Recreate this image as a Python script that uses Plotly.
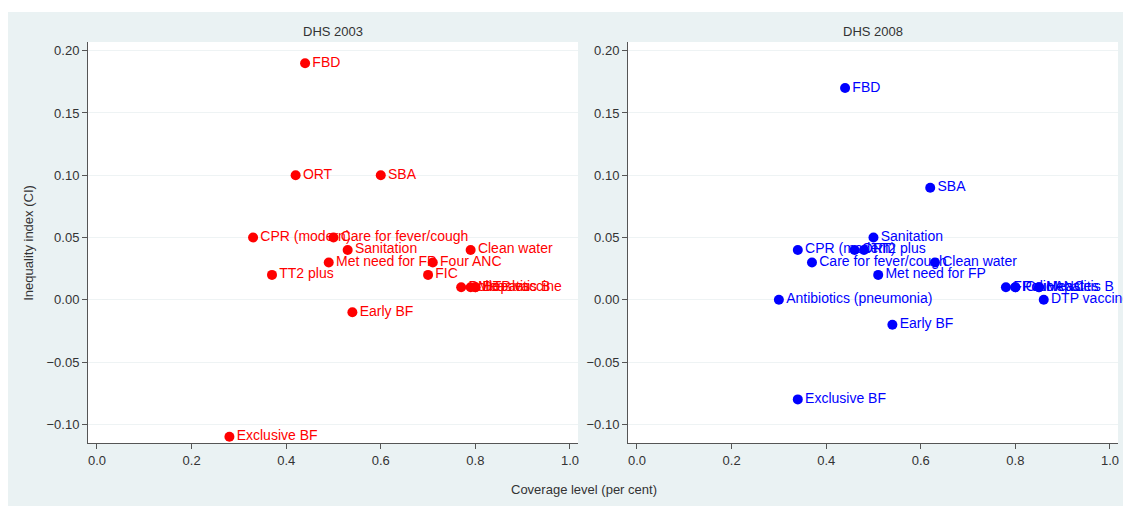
import plotly.graph_objects as go
from plotly.subplots import make_subplots

# DHS 2003
labels_2003 = ["FBD", "ORT", "SBA", "CPR (modern)", "Care for fever/cough", "Sanitation",
               "Clean water", "Met need for FP", "Four ANC", "TT2 plus", "FIC",
               "Polio", "Measles", "Hepatitis B", "DTP vaccine", "Early BF", "Exclusive BF"]
cov_2003 = [0.44, 0.42, 0.60, 0.33, 0.50, 0.53, 0.79, 0.49, 0.71, 0.37, 0.70,
            0.77, 0.79, 0.80, 0.80, 0.54, 0.28]
ci_2003 = [0.19, 0.10, 0.10, 0.05, 0.05, 0.04, 0.04, 0.03, 0.03, 0.02, 0.02,
           0.01, 0.01, 0.01, 0.01, -0.01, -0.11]

# DHS 2008
labels_2008 = ["FBD", "SBA", "Sanitation", "CPR (modern)", "ORT", "TT2 plus",
               "Care for fever/cough", "Clean water", "Met need for FP", "FIC", "Four ANC",
               "Polio", "Measles", "Hepatitis B", "Antibiotics (pneumonia)", "DTP vaccine",
               "Early BF", "Exclusive BF"]
cov_2008 = [0.44, 0.62, 0.50, 0.34, 0.46, 0.48, 0.37, 0.63, 0.51, 0.78, 0.80,
            0.80, 0.85, 0.85, 0.30, 0.86, 0.54, 0.34]
ci_2008 = [0.17, 0.09, 0.05, 0.04, 0.04, 0.04, 0.03, 0.03, 0.02, 0.01, 0.01,
           0.01, 0.01, 0.01, 0.00, 0.00, -0.02, -0.08]

x_ticks = [0.0, 0.2, 0.4, 0.6, 0.8, 1.0]
y_ticks = [-0.10, -0.05, 0.00, 0.05, 0.10, 0.15, 0.20]

FONT = "Liberation Sans, Arial, sans-serif"
BG = "#eaf2f3"

fig = make_subplots(rows=1, cols=2, horizontal_spacing=50 / 1030)

fig.add_trace(go.Scatter(x=cov_2003, y=ci_2003, text=labels_2003, mode="markers+text",
                         textposition="middle right", cliponaxis=False,
                         marker=dict(color="#ff0000", size=10),
                         textfont=dict(color="#ff0000", size=14, family=FONT),
                         showlegend=False), row=1, col=1)
fig.add_trace(go.Scatter(x=cov_2008, y=ci_2008, text=labels_2008, mode="markers+text",
                         textposition="middle right", cliponaxis=False,
                         marker=dict(color="#0000ff", size=10),
                         textfont=dict(color="#0000ff", size=14, family=FONT),
                         showlegend=False), row=1, col=2)

for c in (1, 2):
    fig.update_xaxes(range=[-0.019, 1.017], tickvals=x_ticks,
                     ticktext=[f"{v:.1f}" for v in x_ticks],
                     showgrid=False, zeroline=False, showline=True, linecolor="#555",
                     linewidth=1, ticks="outside", ticklen=5, tickcolor="#555",
                     tickfont=dict(size=13, color="#333", family=FONT), row=1, col=c)
    fig.update_yaxes(range=[-0.115, 0.207], tickvals=y_ticks,
                     ticktext=[f"{v:.2f}".replace("-", "\u2212") for v in y_ticks],
                     showgrid=True, gridcolor="#eef3f4", zeroline=False, showline=True,
                     linecolor="#555", linewidth=1, ticks="outside", ticklen=5,
                     tickcolor="#555", tickfont=dict(size=13, color="#333", family=FONT),
                     row=1, col=c)

fig.update_layout(
    width=1123, height=498,
    margin=dict(l=80, r=13, t=34, b=63),
    paper_bgcolor=BG, plot_bgcolor="white",
    font=dict(family=FONT, color="#333"),
    shapes=[
        dict(type="rect", xref="paper", yref="paper", x0=-0.1, x1=1.02,
             y0=1.0748, y1=1.09, fillcolor="white", line=dict(width=0)),
    ],
    annotations=[
        dict(text="DHS 2003", x=0.4757 / 2, y=1.027, xref="paper", yref="paper",
             xanchor="center", yanchor="middle",
             showarrow=False, font=dict(size=13, color="#333")),
        dict(text="DHS 2008", x=(0.5243 + 1) / 2, y=1.027, xref="paper", yref="paper",
             xanchor="center", yanchor="middle",
             showarrow=False, font=dict(size=13, color="#333")),
        dict(text="Inequality index (CI)", x=-0.058, y=0.5, xref="paper", yref="paper",
             xanchor="center", yanchor="middle",
             textangle=-90, showarrow=False, font=dict(size=13, color="#333")),
        dict(text="Coverage level (per cent)", x=0.482, y=-0.117, xref="paper",
             yref="paper", xanchor="center", yanchor="middle",
             showarrow=False, font=dict(size=13, color="#333")),
    ],
)

fig.write_html("out.html")
